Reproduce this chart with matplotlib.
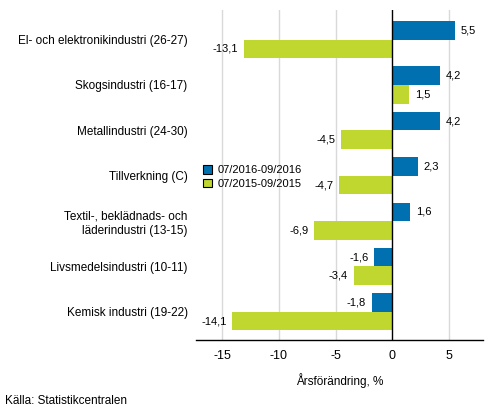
import matplotlib
matplotlib.use('Agg')
import matplotlib.pyplot as plt
import numpy as np

plt.rcParams['font.family'] = ['Liberation Sans', 'DejaVu Sans']

categories = ['El- och elektronikindustri (26-27)', 'Skogsindustri (16-17)',
              'Metallindustri (24-30)', 'Tillverkning (C)',
              'Textil-, beklädnads- och\nläderindustri (13-15)',
              'Livsmedelsindustri (10-11)', 'Kemisk industri (19-22)']
series_2016 = [5.5, 4.2, 4.2, 2.3, 1.6, -1.6, -1.8]
series_2015 = [-13.1, 1.5, -4.5, -4.7, -6.9, -3.4, -14.1]
labels = ['07/2016-09/2016', '07/2015-09/2015']
xticks = [-15, -10, -5, 0, 5]

blue = '#0070b0'
green = '#c0d72f'

fig = plt.figure(figsize=(4.93, 4.16), dpi=100)
ax = fig.add_axes([0.3976, 0.1827, 0.582, 0.793])

y = np.arange(len(categories))
h = 0.41
b1 = ax.barh(y - h / 2, series_2016, height=h, color=blue, label=labels[0], zorder=2)
b2 = ax.barh(y + h / 2, series_2015, height=h, color=green, label=labels[1], zorder=2)

def fmt(v):
    return ('%.1f' % v).replace('.', ',')

for bars, vals in [(b1, series_2016), (b2, series_2015)]:
    for bar, v in zip(bars, vals):
        yc = bar.get_y() + bar.get_height() / 2
        if v >= 0:
            ax.annotate(fmt(v), (v, yc), xytext=(4, 0), textcoords='offset points',
                        ha='left', va='center', fontsize=8)
        else:
            ax.annotate(fmt(v), (v, yc), xytext=(-4, 0), textcoords='offset points',
                        ha='right', va='center', fontsize=8)

ax.set_ylim(6.62, -0.65)
ax.set_xlim(-17.3, 8.0)
ax.set_yticks(y)
ax.set_yticklabels(categories, fontsize=8.5, linespacing=1.3)
ax.set_xticks(xticks)
ax.set_xticklabels([str(t) for t in xticks], fontsize=9)
ax.tick_params(axis='y', length=0, pad=6)
ax.tick_params(axis='x', length=0, pad=7)

for t in xticks:
    if t != 0:
        ax.axvline(t, color='#d9d9d9', lw=1, zorder=1)
ax.axvline(0, color='black', lw=1, zorder=3)

for s in ['top', 'right', 'left']:
    ax.spines[s].set_visible(False)
ax.spines['bottom'].set_color('black')
ax.spines['bottom'].set_linewidth(1)

ax.set_xlabel('Årsförändring, %', fontsize=8.5, labelpad=8)

leg = ax.legend(loc='upper left', bbox_to_anchor=(0.0, 0.55), frameon=False,
                fontsize=8, handlelength=0.8, handleheight=0.8, handletextpad=0.5,
                labelspacing=0.3, borderaxespad=0.2)
for p in leg.get_patches():
    p.set_edgecolor('black')
    p.set_linewidth(0.8)

fig.text(0.01, 0.035, 'Källa: Statistikcentralen', fontsize=8.5, ha='left', va='center')

fig.savefig('out.png', dpi=100)
